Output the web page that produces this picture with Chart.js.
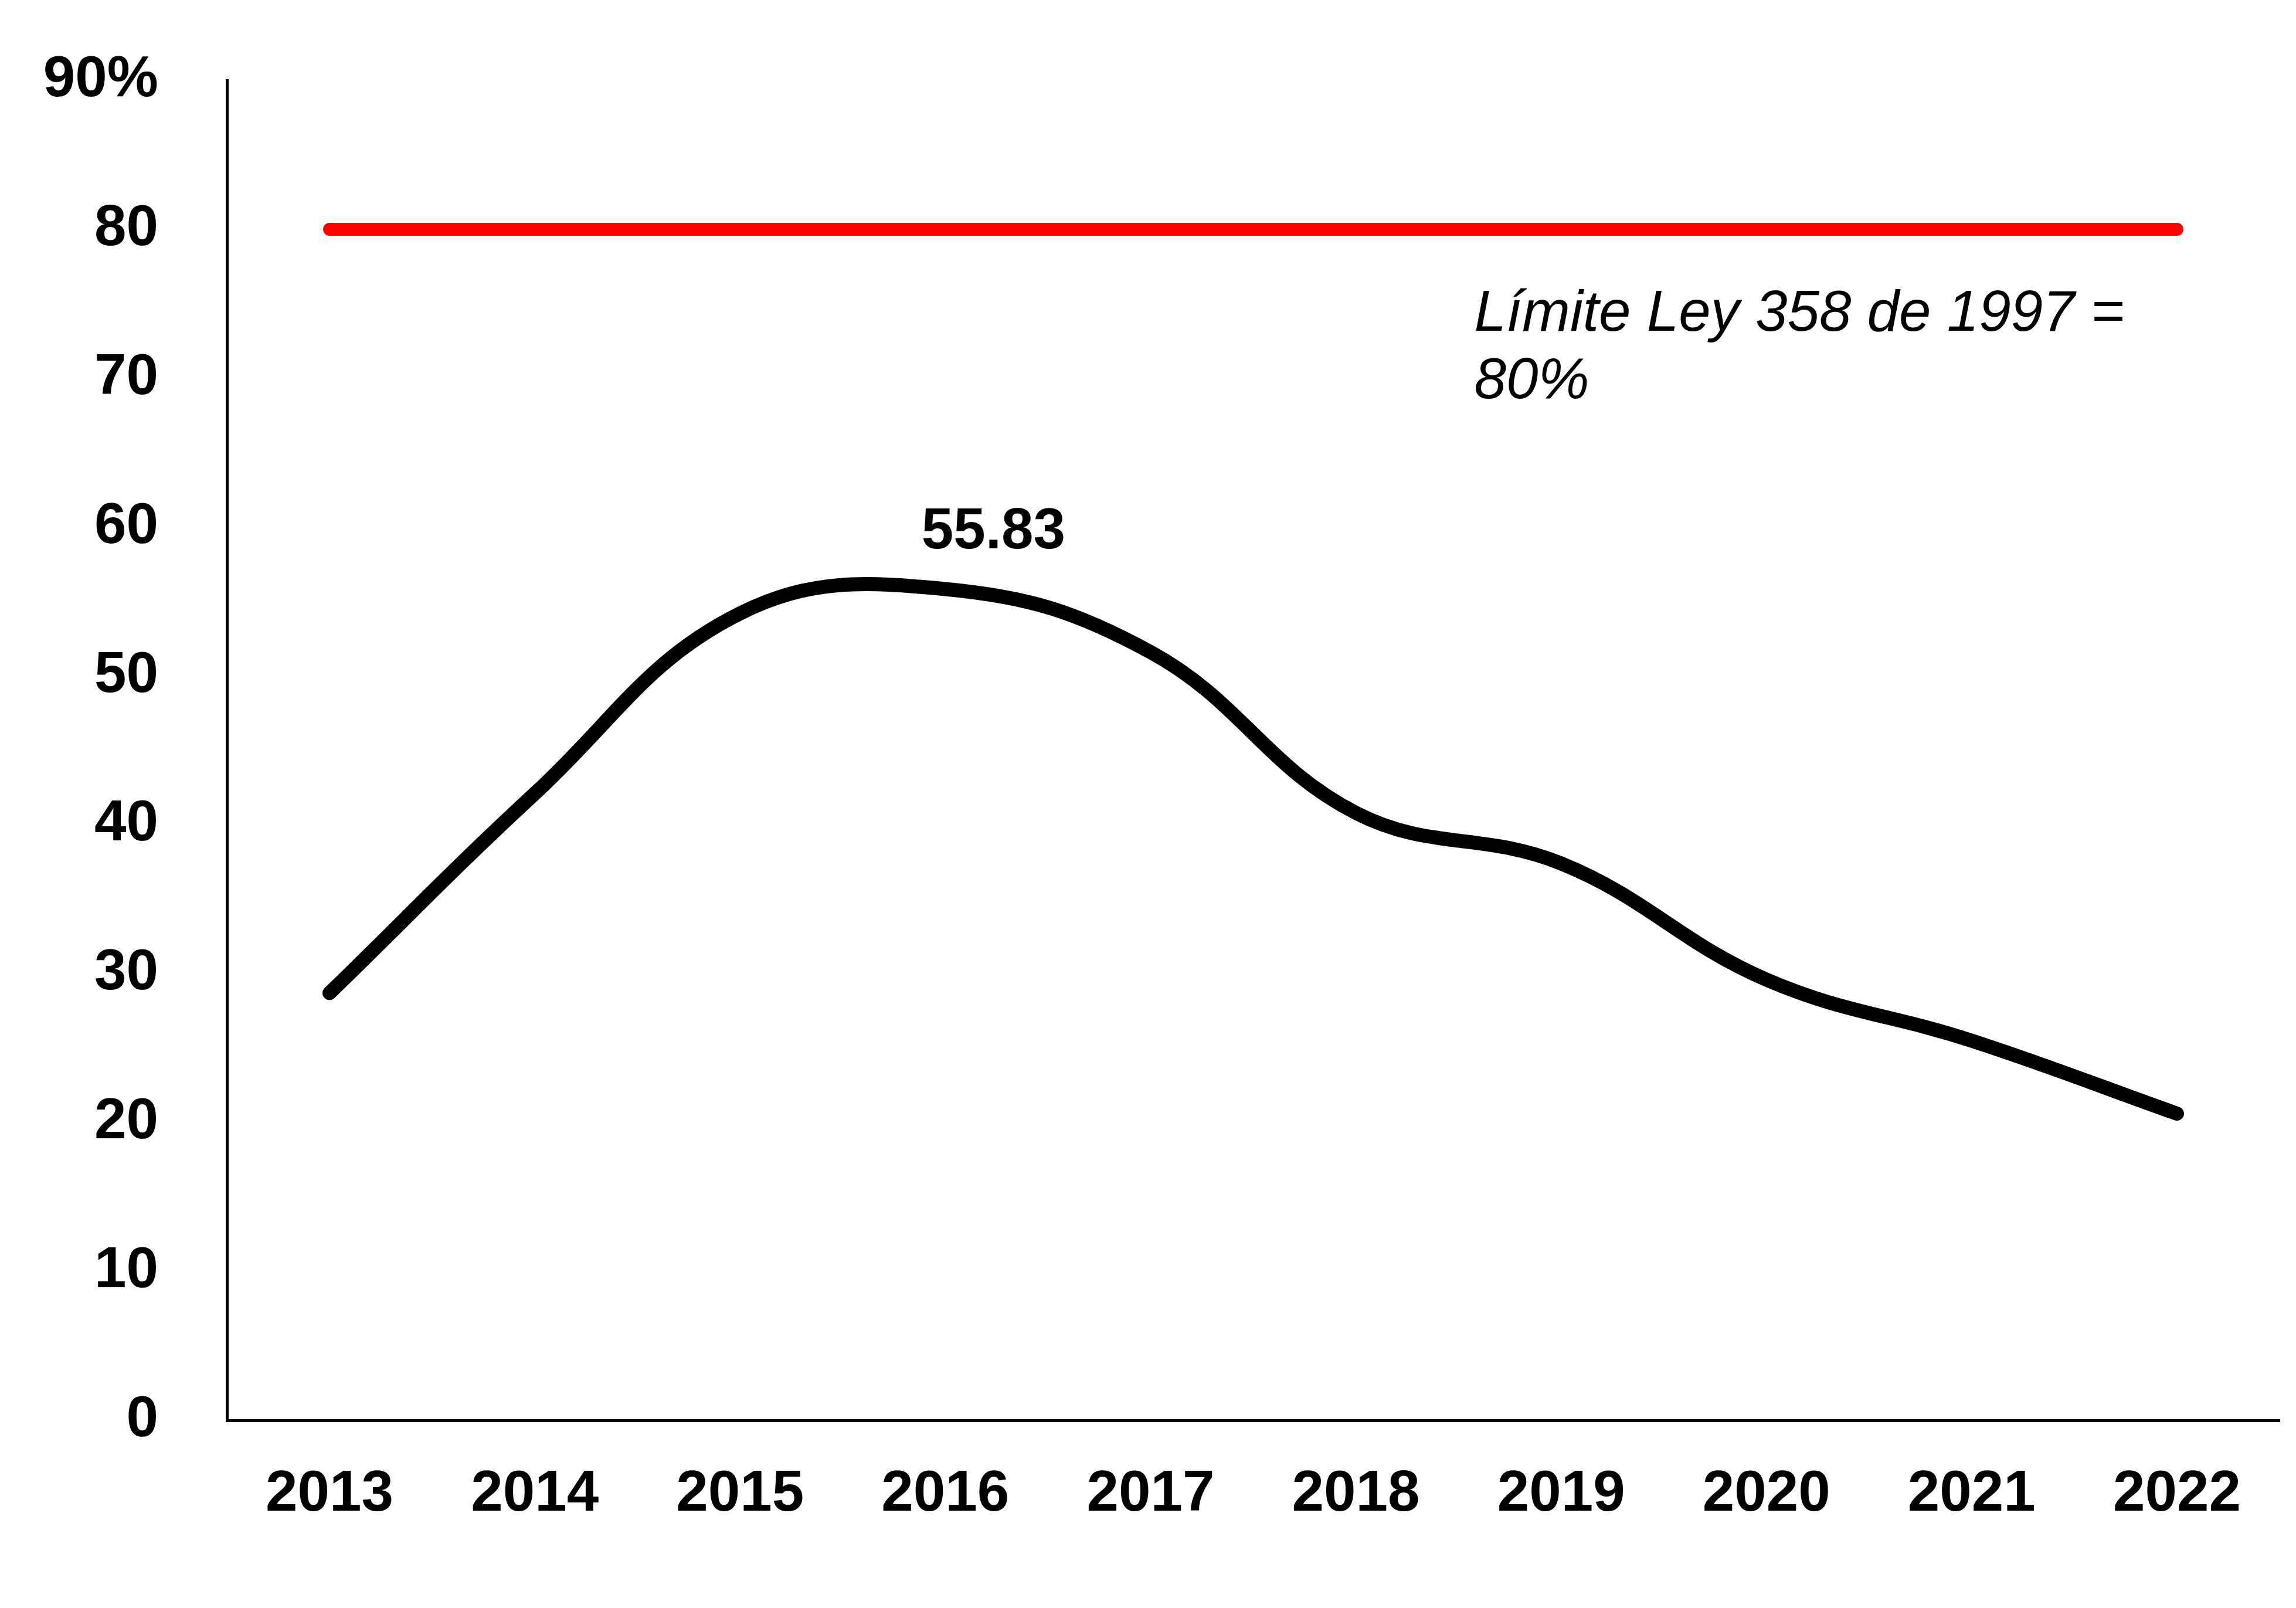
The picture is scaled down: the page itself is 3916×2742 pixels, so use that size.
<!DOCTYPE html>
<html>
<head>
<meta charset="utf-8">
<title>Límite Ley 358 de 1997</title>
<script src="https://cdn.jsdelivr.net/npm/chart.js@4.4.1/dist/chart.umd.min.js"></script>
<style>
  html, body { margin: 0; padding: 0; background: #ffffff; }
  #wrap { width: 3916px; height: 2742px; }
</style>
</head>
<body>
<div id="wrap"><canvas id="ratioChart" width="3916" height="2742"></canvas></div>
<script>
// --- data ---
const years = ['2013', '2014', '2015', '2016', '2017', '2018', '2019', '2020', '2021', '2022'];
const ratioValues = [28.7, 42.1, 54.2, 55.83, 51.6, 40.8, 37.4, 29.6, 25.5, 20.6];
const limitValues = [80, 80, 80, 80, 80, 80, 80, 80, 80, 80];
const yTicks = [0, 10, 20, 30, 40, 50, 60, 70, 80, 90];
const labelledIndex = 3; // 2016 carries the data label
const limitNote = ['Límite Ley 358 de 1997 =', '80%'];

const FONT = "'Liberation Sans', Arial, Helvetica, sans-serif";

// draws the 55.83 label and the note under the red line
const textPlugin = {
    id: 'textPlugin',
    afterDatasetsDraw(chart) {
        const ctx = chart.ctx;
        const x = chart.scales.x;
        const y = chart.scales.y;

        ctx.save();
        ctx.fillStyle = '#000000';

        // data label
        ctx.font = `bold 98px ${FONT}`;
        ctx.textAlign = 'center';
        ctx.textBaseline = 'alphabetic';
        const px = x.getPixelForValue(labelledIndex);
        const py = y.getPixelForValue(ratioValues[labelledIndex]);
        ctx.fillText(ratioValues[labelledIndex].toFixed(2), px + 82, py - 70);

        // limit note
        ctx.font = `italic 98px ${FONT}`;
        ctx.textAlign = 'left';
        const nx = x.getPixelForValue(5) + 202;
        const ny = y.getPixelForValue(80) + 173;
        limitNote.forEach((line, i) => ctx.fillText(line, nx, ny + i * 115));
        ctx.restore();
    }
};

const ctx = document.getElementById('ratioChart').getContext('2d');

new Chart(ctx, {
    type: 'line',
    data: {
        labels: years,
        datasets: [
            {
                label: 'Límite',
                data: limitValues,
                borderColor: '#ff0000',
                borderWidth: 22,
                borderCapStyle: 'round',
                pointRadius: 0,
                fill: false,
                tension: 0
            },
            {
                label: 'Indicador',
                data: ratioValues,
                borderColor: '#000000',
                borderWidth: 24,
                borderCapStyle: 'round',
                borderJoinStyle: 'round',
                pointRadius: 0,
                fill: false,
                tension: 0.4
            }
        ]
    },
    options: {
        responsive: false,
        animation: false,
        devicePixelRatio: 1,
        layout: { padding: { top: 137, right: 28, bottom: 0, left: 0 } },
        plugins: {
            legend: { display: false },
            tooltip: { enabled: false }
        },
        scales: {
            x: {
                offset: true,
                grid: { display: false, drawTicks: false },
                border: { display: true, color: '#000000', width: 5 },
                ticks: {
                    color: '#000000',
                    font: { family: FONT, size: 98, weight: 'bold' },
                    padding: 68,
                    maxRotation: 0,
                    autoSkip: false
                },
                afterFit: (scale) => { scale.height = 320; }
            },
            y: {
                min: 0,
                max: 90,
                afterBuildTicks: (scale) => { scale.ticks = yTicks.map(v => ({ value: v })); },
                grid: { display: false, drawTicks: false },
                border: { display: true, color: '#000000', width: 5 },
                ticks: {
                    color: '#000000',
                    font: { family: FONT, size: 98, weight: 'bold' },
                    padding: 117,
                    callback: (v) => (v === 90 ? '90%' : String(v))
                },
                afterFit: (scale) => {
                    scale.width = 387;
                    // the big label padding should not push the plot down
                    scale.paddingTop = 0;
                    scale.paddingBottom = 0;
                }
            }
        }
    },
    plugins: [textPlugin]
});
</script>
</body>
</html>
